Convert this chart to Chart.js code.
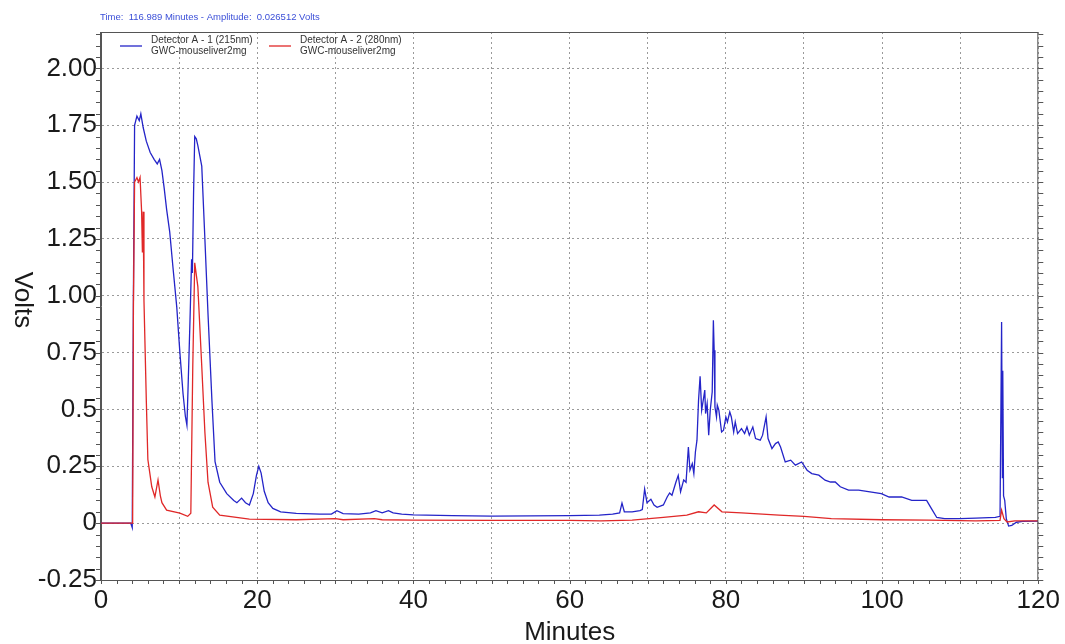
<!DOCTYPE html>
<html>
<head>
<meta charset="utf-8">
<script src="https://cdn.jsdelivr.net/npm/chart.js@4.4.1/dist/chart.umd.min.js"></script>
<style>
  html, body { margin: 0; padding: 0; background: #fff; }
  #wrap { width: 1065px; height: 644px; position: relative; }
</style>
</head>
<body>
<div id="wrap"><canvas id="chrom"></canvas></div>
<script>
// Detector A - 1 (215nm), blue trace
const blueMinutes = [0, 3.8, 4.0, 4.05, 4.15, 4.3, 4.6, 4.9, 5.1, 5.4, 5.8, 6.3, 6.8, 7.2, 7.5, 7.8, 8.1, 8.4, 8.8, 9.2, 9.7, 10.1, 10.5, 10.8, 11.0, 11.15, 11.4, 11.6, 11.7, 11.85, 12.0, 12.2, 12.4, 12.9, 13.3, 13.7, 14.2, 14.6, 15.2, 16.1, 17.0, 17.4, 18.0, 18.5, 19.0, 19.5, 19.9, 20.2, 20.5, 20.9, 21.4, 22.0, 23.0, 25, 28, 29.5, 30.2, 31, 33, 34.5, 35.2, 36, 36.8, 37.4, 38.5, 40, 45, 50, 55, 60, 63.8, 65.5, 66.4, 66.7, 67.0, 68, 69.0, 69.3, 69.6, 69.9, 70.4, 70.8, 71.2, 72.0,
  72.5, 72.8, 73.1, 73.6, 73.9, 74.2, 74.6, 74.9, 75.2, 75.4, 75.7, 75.9, 76.1, 76.3, 76.5, 76.7, 76.9, 77.1, 77.3, 77.4, 77.6, 77.8, 78.0, 78.25, 78.4, 78.5, 78.6, 78.8, 78.9, 79.1, 79.45, 79.7, 80.0, 80.2, 80.5, 80.7, 81.0, 81.2, 81.5, 82.0, 82.4, 82.7, 83.0, 83.45, 83.8, 84.4, 84.7, 85.15, 85.4, 85.9, 86.35, 86.7, 87.0, 87.6, 88.3, 88.9, 89.7, 90.4, 91.0, 91.9, 92.7, 93.4, 94.0, 94.65, 95.7, 97.0,
  99.9, 100.9, 102.5, 103.8, 105.7, 106.3, 107.0, 108, 110, 112, 114.5, 115.1, 115.3, 115.4, 115.45, 115.55, 115.7, 115.9, 116.2, 116.6, 117.2, 118, 120];
const blueVolts = [0, 0, -0.02, -0.02, 1.0, 1.75, 1.79, 1.77, 1.80, 1.74, 1.68, 1.63, 1.60, 1.58, 1.60, 1.55, 1.47, 1.38, 1.28, 1.13, 0.95, 0.75, 0.57, 0.47, 0.43, 0.6, 0.9, 1.16, 1.1, 1.45, 1.70, 1.69, 1.66, 1.57, 1.25, 0.92, 0.54, 0.27, 0.18, 0.13, 0.10, 0.09, 0.11, 0.09, 0.08, 0.13, 0.21, 0.25, 0.22, 0.14, 0.09, 0.065, 0.05, 0.043, 0.04, 0.04, 0.055, 0.042, 0.04, 0.045, 0.055, 0.045, 0.055, 0.045, 0.04, 0.036, 0.033, 0.031, 0.032, 0.033, 0.035, 0.04, 0.045, 0.088, 0.05, 0.05, 0.055, 0.06, 0.15, 0.09, 0.105, 0.08, 0.07, 0.08,
  0.116, 0.133, 0.123, 0.18, 0.21, 0.138, 0.19, 0.18, 0.335, 0.233, 0.262, 0.218, 0.313, 0.365, 0.54, 0.646, 0.497, 0.54, 0.585, 0.482, 0.526, 0.387, 0.497, 0.577, 0.892, 0.76, 0.511, 0.467, 0.519, 0.497, 0.401, 0.409, 0.467, 0.445, 0.489, 0.467, 0.401, 0.445, 0.394, 0.416, 0.394, 0.423, 0.387, 0.423, 0.372, 0.365, 0.387, 0.467, 0.372, 0.328, 0.35, 0.357, 0.335, 0.269, 0.277, 0.255, 0.269, 0.233, 0.218, 0.211, 0.189, 0.181, 0.181, 0.16, 0.145, 0.145,
  0.13, 0.115, 0.115, 0.10, 0.10, 0.065, 0.025, 0.02, 0.02, 0.022, 0.025, 0.03, 0.885, 0.2, 0.67, 0.12, 0.10, 0.02, -0.013, -0.01, 0.004, 0.008, 0.009];

// Detector A - 2 (280nm), red trace
const redMinutes = [0, 3.9, 4.05, 4.15, 4.3, 4.6, 4.8, 5.0, 5.2, 5.3, 5.4, 5.5, 5.8, 6.0, 6.5, 6.9, 7.3, 7.6, 7.8, 8.4, 10.1, 11.1, 11.5, 11.75, 12.0, 12.4, 12.9, 13.3, 13.7, 14.3, 15.2, 19, 25, 30, 31, 35, 36, 40, 50, 60, 64, 68, 72, 75, 76.5, 77.5, 78.5, 79.5, 82, 86.8, 90, 93.5, 100, 106, 112, 115.1, 115.3, 115.6, 116, 117, 120];
const redVolts = [0, 0, 0, 0.95, 1.50, 1.52, 1.50, 1.52, 1.37, 1.19, 1.37, 0.98, 0.54, 0.28, 0.16, 0.115, 0.19, 0.12, 0.09, 0.057, 0.044, 0.03, 0.044, 0.69, 1.145, 1.04, 0.69, 0.40, 0.18, 0.07, 0.035, 0.018, 0.015, 0.02, 0.015, 0.02, 0.015, 0.013, 0.012, 0.012, 0.01, 0.013, 0.025, 0.035, 0.05, 0.045, 0.08, 0.05, 0.045, 0.035, 0.03, 0.02, 0.015, 0.013, 0.01, 0.012, 0.057, 0.02, 0.005, 0.01, 0.01];

const xTicks = [0, 10, 20, 30, 40, 50, 60, 70, 80, 90, 100, 110, 120];
const xTickLabels = [0, 20, 40, 60, 80, 100, 120];
const yTicks = [-0.25, 0, 0.25, 0.5, 0.75, 1.0, 1.25, 1.5, 1.75, 2.0];
const yTickLabels = ['-0.25', '0', '0.25', '0.5', '0.75', '1.00', '1.25', '1.50', '1.75', '2.00'];

const seriesNames = ['Detector A - 1 (215nm)', 'Detector A - 2 (280nm)'];
const sampleName = 'GWC-mouseliver2mg';
const cursorText = 'Time:  116.989 Minutes - Amplitude:  0.026512 Volts';

const BLUE = '#2424c8';
const RED = '#e02828';
const SANS = "'Liberation Sans', Arial, sans-serif";

const toPoints = (xs, ys) => xs.map((x, i) => ({ x, y: ys[i] }));

// frame, minor ticks, legend, cursor text and y title
const decor = {
  id: 'decor',
  afterDraw(chart) {
    const { ctx, chartArea: a, scales: { x, y } } = chart;
    ctx.save();
    ctx.strokeStyle = '#555';
    ctx.lineWidth = 1;
    ctx.strokeRect(a.left - 0.5, a.top + 0.5, a.right - a.left, a.bottom - a.top);

    ctx.beginPath();
    for (let v = -0.25; v <= 2.16; v += 0.05) {
      const py = Math.round(y.getPixelForValue(v)) + 0.5;
      ctx.moveTo(a.left - 5, py); ctx.lineTo(a.left, py);
      ctx.moveTo(a.right, py); ctx.lineTo(a.right + 5, py);
    }
    for (let m = 0; m <= 120; m += 2) {
      const px = Math.round(x.getPixelForValue(m)) + 0.5;
      ctx.moveTo(px, a.bottom); ctx.lineTo(px, a.bottom + 4);
    }
    ctx.stroke();

    // legend
    ctx.font = "10px " + SANS;
    ctx.textBaseline = 'middle';
    ctx.fillStyle = '#333';
    [[120, BLUE], [269, RED]].forEach(([lx, col], i) => {
      ctx.strokeStyle = col;
      ctx.lineWidth = 1.3;
      ctx.beginPath(); ctx.moveTo(lx, 46); ctx.lineTo(lx + 22, 46); ctx.stroke();
      ctx.fillText(seriesNames[i], lx + 31, 40);
      ctx.fillText(sampleName, lx + 31, 51);
    });

    ctx.fillStyle = '#3b4fd8';
    ctx.font = "9.5px " + SANS;
    ctx.fillText(cursorText, 100, 17);

    ctx.fillStyle = '#1a1a1a';
    ctx.font = "26px " + SANS;
    ctx.textAlign = 'center';
    ctx.translate(22, 300);
    ctx.rotate(Math.PI / 2);
    ctx.fillText('Volts', 0, 0);
    ctx.restore();
  }
};

new Chart(document.getElementById('chrom'), {
  type: 'line',
  data: {
    datasets: [
      { label: seriesNames[0], data: toPoints(blueMinutes, blueVolts), borderColor: BLUE, borderWidth: 1.3, order: 2 },
      { label: seriesNames[1], data: toPoints(redMinutes, redVolts), borderColor: RED, borderWidth: 1.3, order: 1 }
    ]
  },
  options: {
    responsive: true,
    maintainAspectRatio: false,
    devicePixelRatio: 1,
    animation: false,
    elements: { point: { radius: 0 }, line: { tension: 0 } },
    layout: { padding: { left: 0, top: 32, right: 24, bottom: 0 } },
    plugins: { legend: { display: false }, tooltip: { enabled: false } },
    scales: {
      x: {
        type: 'linear',
        min: 0,
        max: 120,
        afterBuildTicks: s => { s.ticks = xTicks.map(v => ({ value: v })); },
        afterFit: s => { s.height = 64; },
        ticks: {
          autoSkip: false,
          maxRotation: 0,
          padding: 5,
          color: '#1a1a1a',
          font: { family: SANS, size: 26 },
          callback: v => xTickLabels.includes(v) ? String(v) : ''
        },
        grid: { color: '#9a9a9a', lineWidth: 1, drawTicks: false },
        border: { display: true, color: '#555', dash: [2, 3] },
        title: { display: true, text: 'Minutes', color: '#1a1a1a', font: { family: SANS, size: 26 }, padding: { top: 0, bottom: -4 } }
      },
      y: {
        type: 'linear',
        min: -0.25,
        max: 2.16,
        afterBuildTicks: s => { s.ticks = yTicks.map(v => ({ value: v })); },
        afterFit: s => { s.width = 101; },
        ticks: {
          autoSkip: false,
          padding: 4,
          color: '#1a1a1a',
          font: { family: SANS, size: 26 },
          callback: (v, i) => yTickLabels[i]
        },
        grid: { color: '#9a9a9a', lineWidth: 1, drawTicks: false },
        border: { display: true, color: '#555', dash: [2, 3] }
      }
    }
  },
  plugins: [decor]
});
</script>
</body>
</html>
